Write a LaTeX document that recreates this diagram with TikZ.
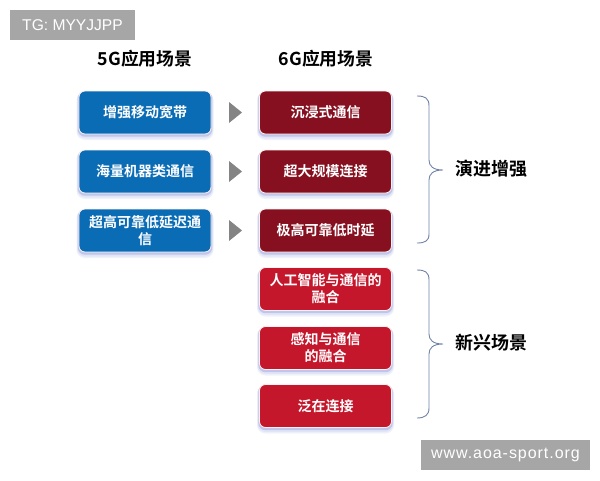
\documentclass[tikz,border=0pt]{standalone}
\usepackage{fontspec}
\setmainfont{Liberation Sans}
\newfontfamily\cjkb{Noto Sans CJK SC}[BoldFont={Noto Sans CJK SC Bold}]
\newfontfamily\tagfont{Liberation Sans}
\newfontfamily\tagwide{Liberation Sans}[LetterSpace=6]
\definecolor{blueb}{HTML}{0A6CB5}
\definecolor{darkr}{HTML}{86101F}
\definecolor{brightr}{HTML}{C4172C}
\definecolor{halo}{HTML}{9DA8E0}
\definecolor{bracec}{HTML}{6F83A8}
\definecolor{tagg}{HTML}{A6A6A6}
\definecolor{arrowg}{HTML}{848484}
\tikzset{
  card/.style={rounded corners=6pt,minimum width=132pt,minimum height=43pt,inner sep=0pt,
    align=center,text=white,draw=white!80!pink,line width=0.8pt,
    font=\cjkb\bfseries\fontsize{14}{17}\selectfont,
    preaction={draw=halo!15,fill=halo!15,line width=5pt,transform canvas={yshift=-3.5pt}},
    preaction={draw=halo!30,line width=4pt,transform canvas={yshift=-2.5pt}},
    preaction={draw=halo!65,line width=2.4pt,transform canvas={yshift=-1.5pt}}},
  bluecard/.style={card,fill=blueb},
  darkcard/.style={card,fill=darkr},
  redcard/.style={card,fill=brightr},
  head/.style={font=\cjkb\bfseries\fontsize{17.8}{20}\selectfont,text=black,inner sep=0pt},
  sidelabel/.style={font=\cjkb\bfseries\fontsize{18}{20}\selectfont,text=black,inner sep=0pt},
  tag/.style={fill=tagg,text=white,inner sep=0pt},
  bracel/.style={draw=bracec,line width=0.9pt},
  tri/.style={fill=arrowg,draw=none}
}
\begin{document}
\begin{tikzpicture}[x=1pt,y=-1pt]
\useasboundingbox (0,0) rectangle (600,480);
\node[tag,minimum width=125pt,minimum height=30pt,font=\tagfont\fontsize{15.6}{18}\selectfont] (tg) at (72.5,25) {TG: MYYJJPP};
\node[tag,minimum width=169pt,minimum height=30pt,font=\tagwide\fontsize{16}{18}\selectfont] (www) at (505.5,455) {www.aoa-sport.org};
\node[head] (h5) at (145,59) {5G应用场景};
\node[head] (h6) at (326,59) {6G应用场景};
\node[bluecard] (b1) at (145,112.5) {增强移动宽带};
\node[bluecard] (b2) at (145,171.5) {海量机器类通信};
\node[bluecard] (b3) at (145,230.5) {超高可靠低延迟通\\信};
\node[darkcard] (d1) at (325.5,112.5) {沉浸式通信};
\node[darkcard] (d2) at (325.5,171.5) {超大规模连接};
\node[darkcard] (d3) at (325.5,230.5) {极高可靠低时延};
\node[redcard] (r1) at (325.5,289) {人工智能与通信的\\融合};
\node[redcard] (r2) at (325.5,348) {感知与通信\\的融合};
\node[redcard] (r3) at (325.5,406) {泛在连接};
\foreach \y in {112.5,171.5,230.5}
  \fill[tri] (229,\y-10.5) -- (242,\y) -- (229,\y+10.5) -- cycle;
\node[sidelabel] (l1) at (491.5,169) {演进增强};
\node[sidelabel] (l2) at (491.5,343) {新兴场景};
\draw[bracel] (417,96) .. controls (425,96) and (429,98) .. (429,106) -- (429,160)
  .. controls (429,166) and (433,170) .. (443,170)
  .. controls (433,170) and (429,174) .. (429,180) -- (429,234)
  .. controls (429,241) and (425,243) .. (417,243);
\draw[bracel] (417,270) .. controls (425,270) and (429,272) .. (429,280) -- (429,334)
  .. controls (429,340) and (433,344) .. (443,344)
  .. controls (433,344) and (429,348) .. (429,354) -- (429,408)
  .. controls (429,415) and (425,418) .. (417,418);
\end{tikzpicture}
\end{document}
